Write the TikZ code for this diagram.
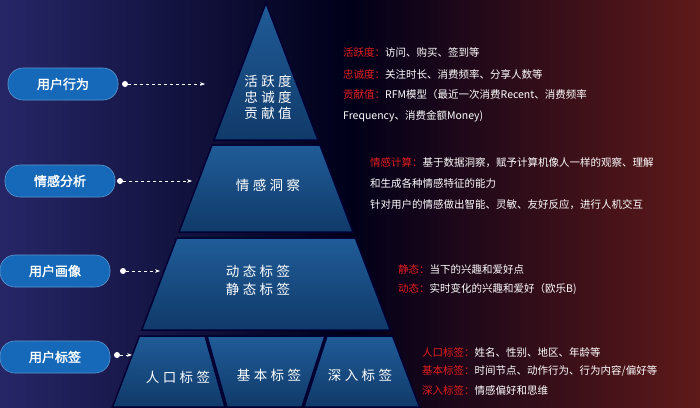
\documentclass[tikz,border=0pt]{standalone}
\usepackage{fontspec}
\usetikzlibrary{arrows.meta}
\setmainfont{Noto Sans CJK SC}
\newfontfamily\cjkb[FakeBold=2]{Noto Sans CJK SC}
\newfontfamily\cjks[LetterSpace=25]{Noto Sans CJK SC}
\definecolor{tierT}{RGB}{32,92,152}
\definecolor{tierB}{RGB}{16,58,105}
\definecolor{pillc}{RGB}{22,105,185}
\definecolor{redt}{RGB}{225,30,30}
\begin{document}
\begin{tikzpicture}[x=1pt,y=-1pt,
  pill/.style={rounded corners=15pt,fill=pillc,draw=pillc!70!white,line width=0.6pt,minimum width=110pt,minimum height=32pt,text=white,font=\cjkb\fontsize{13}{13}\selectfont,inner sep=0pt},
  tier/.style={draw=blue!20!black,line width=1.5pt,top color=tierT,bottom color=tierB},
  ptext/.style={text=white,font=\cjks\fontsize{13.5}{16}\selectfont,align=center},
  rtext/.style={text=white,font=\fontsize{10.5}{12}\selectfont,anchor=west,inner sep=0pt},
  conn/.style={draw=white,dashed,line width=1pt,-{Stealth[length=5pt]}},
  dotc/.style={circle,fill=white,inner sep=0pt,minimum size=6pt}]
\useasboundingbox (0,0) rectangle (700,407);
\shade[left color=blue!30!black!85,right color=red!30!black!90,middle color=black!90!blue] (0,0) rectangle (700,407);
% pyramid
\shade[tier] (266,3) -- ({266+0.38*137},140) -- ({266-0.38*137},140) -- cycle;
\shade[tier] ({266-0.38*142},145) -- ({266+0.38*142},145) -- ({266+0.38*229},232) -- ({266-0.38*229},232) -- cycle;
\shade[tier] ({266-0.38*235},238) -- ({266+0.38*235},238) -- ({266+0.38*327},330) -- ({266-0.38*327},330) -- cycle;
\shade[tier] ({266-0.38*333},336) -- (205,336) -- (225,407) -- ({266-0.38*404},407) -- cycle;
\shade[tier] (207,336) -- (325,336) -- (302,407) -- (227,407) -- cycle;
\shade[tier] (327,336) -- ({266+0.38*333},336) -- ({266+0.38*404},407) -- (304,407) -- cycle;
% pyramid texts
\node[ptext] (t1) at (268,97) {活跃度\\[0pt]忠诚度\\[0pt]贡献值};
\node[ptext] (t2) at (268,185) {情感洞察};
\node[ptext] (t3) at (258,280) {动态标签\\[2pt]静态标签};
\node[ptext] (t4a) at (178,377) {人口标签};
\node[ptext] (t4b) at (269,375) {基本标签};
\node[ptext] (t4c) at (360,375) {深入标签};
% pills
\node[pill] (p1) at (63,84) {用户行为};
\node[pill] (p2) at (60,181) {情感分析};
\node[pill] (p3) at (55,271) {用户画像};
\node[pill] (p4) at (55,357) {用户标签};
\node[dotc] (d1) at (125,84) {}; \coordinate (e1) at (205,84);
\node[dotc] (d2) at (120,181) {}; \coordinate (e2) at (192,181);
\node[dotc] (d3) at (123,271) {}; \coordinate (e3) at (160,271);
\node[dotc] (d4) at (117,355) {}; \coordinate (e4) at (132,355);
\draw[conn] (d1) -- (e1); \draw[conn] (d2) -- (e2);
\draw[conn] (d3) -- (e3); \draw[conn] (d4) -- (e4);
% right texts
\node[rtext] (r1) at (343,53) {\textcolor{redt}{活跃度：}访问、购买、签到等};
\node[rtext] (r2) at (343,74) {\textcolor{redt}{忠诚度：}关注时长、消费频率、分享人数等};
\node[rtext] (r3) at (343,95) {\textcolor{redt}{贡献值：}RFM模型（最近一次消费Recent、消费频率};
\node[rtext] (r4) at (343,116) {Frequency、消费金额Money)};
\node[rtext] (r5) at (370,163) {\textcolor{redt}{情感计算：}基于数据洞察，赋予计算机像人一样的观察、理解};
\node[rtext] (r6) at (370,184) {和生成各种情感特征的能力};
\node[rtext] (r7) at (370,205) {针对用户的情感做出智能、灵敏、友好反应，进行人机交互};
\node[rtext] (r8) at (398,269) {\textcolor{redt}{静态：}当下的兴趣和爱好点};
\node[rtext] (r9) at (398,289) {\textcolor{redt}{动态：}实时变化的兴趣和爱好（欧乐B)};
\node[rtext] (r10) at (422,352) {\textcolor{redt}{人口标签：}姓名、性别、地区、年龄等};
\node[rtext] (r11) at (422,371) {\textcolor{redt}{基本标签：}时间节点、动作行为、行为内容/偏好等};
\node[rtext] (r12) at (422,390) {\textcolor{redt}{深入标签：}情感偏好和思维};
\end{tikzpicture}
\end{document}
